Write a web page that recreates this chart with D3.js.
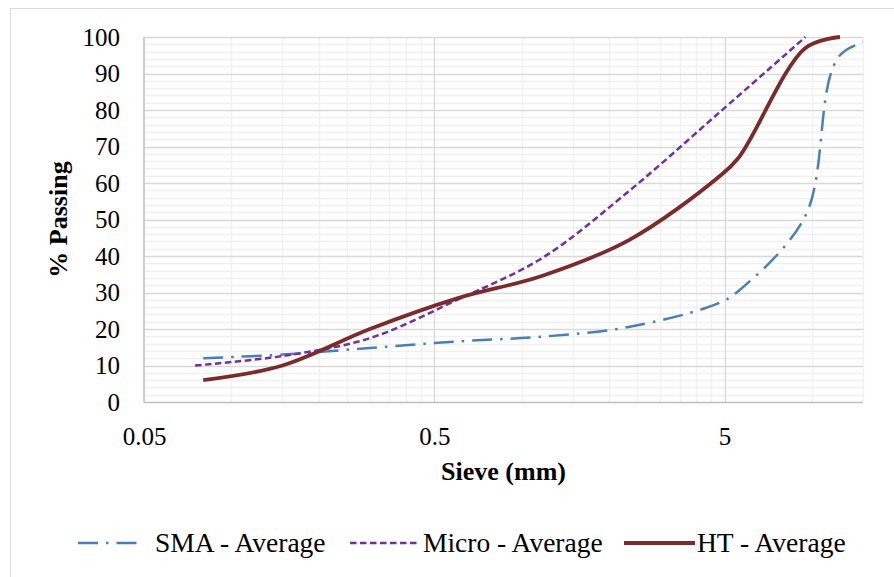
<!DOCTYPE html>
<html>
<head>
<meta charset="utf-8">
<script src="https://cdn.jsdelivr.net/npm/d3@7"></script>
<style>
  html, body { margin: 0; padding: 0; background: #fff; }
  svg { display: block; }
  svg text { font-family: "Liberation Serif", "Times New Roman", "DejaVu Serif", serif !important; fill: #000; }
</style>
</head>
<body>
<svg id="chart" width="894" height="577"></svg>
<script>
// Gradation data: sieve size (mm) vs. percent passing
const sieveSMA   = [0.08, 0.15, 0.3, 0.6, 1.18, 2.36, 4.75, 5.6, 9.5, 12.5, 19];
const smaAverage = [12, 13, 14.8, 16.6, 17.9, 20.6, 27, 30.5, 51, 95, 100];

const sieveMicro   = [0.075, 0.15, 0.3, 0.6, 1.18, 2.36, 4.75, 9.5];
const microAverage = [10, 12.6, 17.5, 28, 39.5, 58, 79, 100];

const sieveHT   = [0.08, 0.15, 0.3, 0.6, 1.18, 2.36, 4.75, 5.6, 9.5, 12.5];
const htAverage = [6, 10, 20, 28.4, 34.6, 44.5, 61.5, 67, 97, 100];

const xTickValues = [0.05, 0.5, 5];
const yTickValues = [0, 10, 20, 30, 40, 50, 60, 70, 80, 90, 100];
const seriesNames = ["SMA - Average", "Micro - Average", "HT - Average"];

// Layout
const plot = { left: 144, right: 863, top: 37, bottom: 402 };
const serif = "'Liberation Serif', 'Times New Roman', serif";

const svg = d3.select("#chart");

// Outer chart frame
svg.append("rect")
  .attr("x", 10.5).attr("y", 8.5)
  .attr("width", 1000).attr("height", 1000)
  .attr("fill", "none").attr("stroke", "#d9d9d9").attr("stroke-width", 1);

const x = d3.scaleLog().domain([0.05, 15]).range([plot.left, plot.right]);
const y = d3.scaleLinear().domain([0, 100]).range([plot.bottom, plot.top]);

const grid = svg.append("g");

// Minor horizontal gridlines every 2 %
const yMinor = d3.range(2, 100, 2).filter(v => v % 10 !== 0);
grid.selectAll(".hmin").data(yMinor).join("line")
  .attr("x1", plot.left).attr("x2", plot.right)
  .attr("y1", d => Math.round(y(d)) + 0.5).attr("y2", d => Math.round(y(d)) + 0.5)
  .attr("stroke", "#f0f0f0").attr("stroke-width", 1.3);

// Minor vertical gridlines at 2..9 times each decade start
const xMinor = [];
xTickValues.forEach(b => { for (let k = 2; k <= 9; k++) { const v = +(b * k).toPrecision(6); if (v <= 15) xMinor.push(v); } });
grid.selectAll(".vmin").data(xMinor).join("line")
  .attr("y1", plot.top).attr("y2", plot.bottom)
  .attr("x1", d => Math.round(x(d)) + 0.5).attr("x2", d => Math.round(x(d)) + 0.5)
  .attr("stroke", "#f0f0f0").attr("stroke-width", 1.3);

// Major horizontal gridlines
grid.selectAll(".hmaj").data(yTickValues.filter(v => v > 0)).join("line")
  .attr("x1", plot.left).attr("x2", plot.right)
  .attr("y1", d => Math.round(y(d)) + 0.5).attr("y2", d => Math.round(y(d)) + 0.5)
  .attr("stroke", "#d9d9d9").attr("stroke-width", 1.3);

// Major vertical gridlines
grid.selectAll(".vmaj").data(xTickValues.slice(1)).join("line")
  .attr("y1", plot.top).attr("y2", plot.bottom)
  .attr("x1", d => Math.round(x(d)) + 0.5).attr("x2", d => Math.round(x(d)) + 0.5)
  .attr("stroke", "#d9d9d9").attr("stroke-width", 1.3);

// Axis lines
svg.append("line")
  .attr("x1", plot.left).attr("x2", plot.left)
  .attr("y1", plot.top).attr("y2", plot.bottom + 0.5)
  .attr("stroke", "#bfbfbf").attr("stroke-width", 1.5);
svg.append("line")
  .attr("x1", plot.left).attr("x2", plot.right)
  .attr("y1", plot.bottom + 0.5).attr("y2", plot.bottom + 0.5)
  .attr("stroke", "#bfbfbf").attr("stroke-width", 1.5);

// Tick labels
const yAxis = svg.append("g")
  .attr("transform", `translate(${plot.left},0)`)
  .call(d3.axisLeft(y).tickValues(yTickValues).tickSize(0).tickPadding(24));
const xAxis = svg.append("g")
  .attr("transform", `translate(0,${plot.bottom})`)
  .call(d3.axisBottom(x).tickValues(xTickValues).tickSize(0).tickPadding(25).tickFormat(d => String(d)));
[yAxis, xAxis].forEach(a => {
  a.attr("font-family", null).attr("font-size", null);
  a.select(".domain").remove();
  a.selectAll("text")
    .style("font-family", serif)
    .style("font-size", "25px")
    .attr("fill", "#000");
});

// Axis titles
svg.append("text")
  .attr("x", (plot.left + plot.right) / 2).attr("y", 480)
  .attr("text-anchor", "middle")
  .style("font-family", serif).style("font-size", "26px").style("font-weight", "bold")
  .text("Sieve (mm)");
svg.append("text")
  .attr("transform", `translate(67,${(plot.top + plot.bottom) / 2}) rotate(-90)`)
  .attr("text-anchor", "middle")
  .style("font-family", serif).style("font-size", "26px").style("font-weight", "bold")
  .text("% Passing");

// Series
const series = [
  { name: seriesNames[0], xs: sieveSMA, ys: smaAverage, color: "#4a7ebb", width: 2.5, dash: "20,8,2.5,8" },
  { name: seriesNames[1], xs: sieveMicro, ys: microAverage, color: "#7030a0", width: 2.5, dash: "6.5,3.5" },
  { name: seriesNames[2], xs: sieveHT, ys: htAverage, color: "#7b2b2b", width: 3.8, dash: null }
];

svg.append("clipPath").attr("id", "plotClip")
  .append("rect")
  .attr("x", plot.left).attr("y", plot.top - 4)
  .attr("width", plot.right - plot.left).attr("height", plot.bottom - plot.top + 4);

const line = d3.line()
  .x(d => x(d[0]))
  .y(d => y(d[1]))
  .curve(d3.curveCatmullRom.alpha(0.5));

const lines = svg.append("g").attr("clip-path", "url(#plotClip)");
series.forEach(s => {
  const pts = s.xs.map((v, i) => [v, s.ys[i]]);
  lines.append("path")
    .datum(pts)
    .attr("d", line)
    .attr("fill", "none")
    .attr("stroke", s.color)
    .attr("stroke-width", s.width)
    .attr("stroke-dasharray", s.dash)
    .attr("stroke-linejoin", "round");
});

// Legend
const legendY = 543;
const legendItems = [
  { x0: 78, x1: 140, tx: 155 },
  { x0: 350, x1: 418, tx: 423 },
  { x0: 624, x1: 695, tx: 697 }
];
const legend = svg.append("g");
series.forEach((s, i) => {
  const p = legendItems[i];
  legend.append("line")
    .attr("x1", p.x0).attr("x2", p.x1)
    .attr("y1", legendY).attr("y2", legendY)
    .attr("stroke", s.color).attr("stroke-width", s.width)
    .attr("stroke-dasharray", s.dash);
  legend.append("text")
    .attr("x", p.tx).attr("y", legendY + 9)
    .style("font-family", serif).style("font-size", "27.5px")
    .text(s.name);
});
</script>
</body>
</html>
